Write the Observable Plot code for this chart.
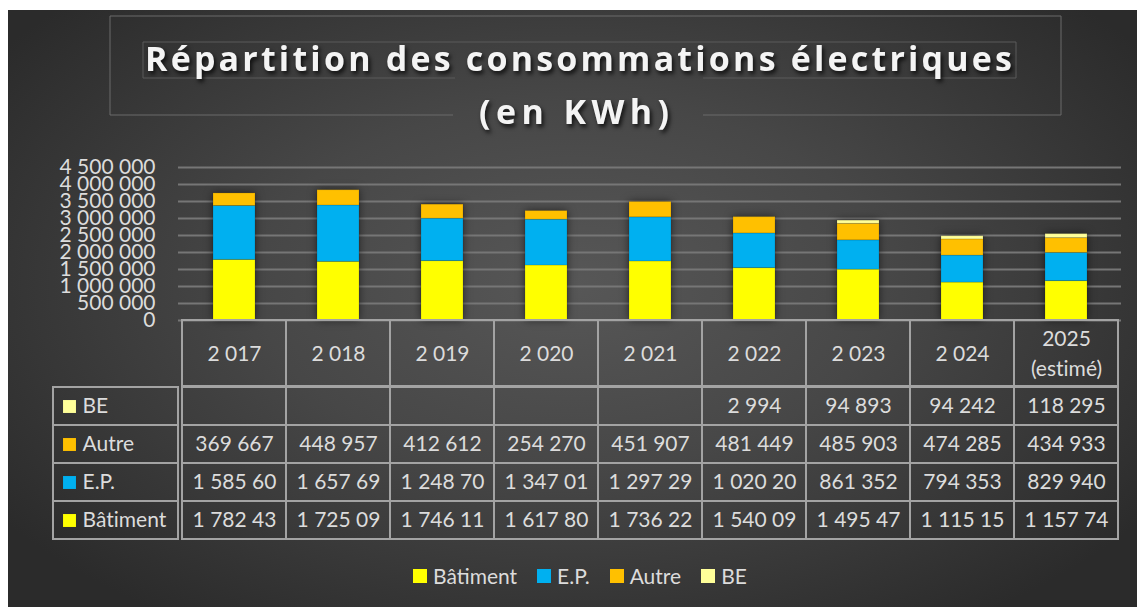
<!DOCTYPE html>
<html>
<head>
<meta charset="utf-8">
<script src="https://cdn.jsdelivr.net/npm/d3@7"></script>
<script src="https://cdn.jsdelivr.net/npm/@observablehq/plot@0.6"></script>
<style>
  html, body { margin: 0; padding: 0; background: #ffffff; width: 1137px; height: 607px; overflow: hidden; }
  #bg { position: absolute; left: 8px; top: 10px; width: 1129px; height: 597px;
        background: radial-gradient(ellipse 62% 68% at 50% 46%, #575757 0%, #474747 45%, #2b2b2b 100%); }
  #root { position: absolute; left: 0; top: 0; width: 1137px; height: 607px; }
  #root > * { position: absolute; }
  #root text { font-variant-ligatures: none; }
  :where(.lg-swatch) { margin-right: 20px !important; }
  :where(.lg-swatch > svg) { margin-right: 6px !important; }
</style>
</head>
<body>
<div id="bg"></div>
<div id="root">
  <svg id="title" width="1137" height="140" style="left:0;top:0">
    <path d="M453,115 H110 V16 H1061 V115 H703" fill="none" stroke="#6a6a6a" stroke-width="1"/>
    <path d="M455,78 H143 V42 H1016 V78 H703" fill="none" stroke="#5a5a5a" stroke-width="1"/>
    <g style="filter: drop-shadow(2px 3px 2px rgba(0,0,0,0.75))" fill="#f4f4f4"
       font-family="'Open Sans', Lato, sans-serif" font-weight="700" font-size="34">
      <text x="145" y="71" textLength="867" lengthAdjust="spacing">Répartition des consommations électriques</text>
      <text x="479" y="124" textLength="190" lengthAdjust="spacing">(en KWh)</text>
    </g>
  </svg>
</div>
<script>
// ---- data ----
const categories = ["2 017", "2 018", "2 019", "2 020", "2 021", "2 022", "2 023", "2 024", "2025\n(estimé)"];
const seriesNames = ["Bâtiment", "E.P.", "Autre", "BE"];
const seriesColors = ["#FFFF00", "#00B0F0", "#FFC000", "#FFFF99"];
const batiment = [1782430, 1725090, 1746110, 1617800, 1736220, 1540090, 1495470, 1115150, 1157740];
const ep       = [1585600, 1657690, 1248700, 1347010, 1297290, 1020200, 861352, 794353, 829940];
const autre    = [369667, 448957, 412612, 254270, 451907, 481449, 485903, 474285, 434933];
const be       = [null, null, null, null, null, 2994, 94893, 94242, 118295];
const yTicks   = [0, 500000, 1000000, 1500000, 2000000, 2500000, 3000000, 3500000, 4000000, 4500000];
const tableRows = ["BE", "Autre", "E.P.", "Bâtiment"];

// ---- build tables ----
const seriesValues = {"Bâtiment": batiment, "E.P.": ep, "Autre": autre, "BE": be};
const long = [];
for (const s of seriesNames) {
  seriesValues[s].forEach((v, i) => long.push({year: categories[i], series: s, value: v}));
}
const present = long.filter(d => d.value != null);
const grid = [];
for (const r of tableRows) for (const c of categories) grid.push({year: c, series: r});

const fr = d3.formatLocale({decimal: ",", thousands: " ", grouping: [3], currency: ["", ""]});
const fmt = fr.format(",d");
const cellText = v => { const s = fmt(v); return s.length > 8 ? s.slice(0, 8) : s; };

const FONT = "Lato, 'Open Sans', sans-serif";
const TXT = "#dcdcdc";
const LINE = "#a3a3a3";
const baseStyle = {background: "transparent", color: TXT, fontFamily: FONT, fontSize: "21px", overflow: "visible"};
const root = document.getElementById("root");
function place(el, left, top) { el.style.left = left + "px"; el.style.top = top + "px"; root.appendChild(el); return el; }

// ---- bar chart ----
const A = Plot.plot({
  width: 1137, height: 172,
  marginTop: 17, marginBottom: 2, marginLeft: 178, marginRight: 16,
  x: {domain: categories, paddingInner: 0.6, paddingOuter: 0.3, axis: null},
  y: {domain: [0, 4500000], axis: null},
  color: {domain: seriesNames, range: seriesColors},
  style: baseStyle,
  marks: [
    Plot.gridY({ticks: yTicks, stroke: "#767676", strokeOpacity: 1, strokeWidth: 2}),
    Plot.axisY({ticks: yTicks, tickFormat: fmt, tickSize: 0, tickPadding: 23, fontSize: 21, label: null}),
    Plot.barY(present, {x: "year", y: "value", fill: "series", order: seriesNames,
      stroke: "#000", strokeOpacity: 0.12, strokeWidth: 1})
  ]
});
place(A, 0, 150);
A.querySelectorAll('g[aria-label="bar"]').forEach(g => g.style.filter = "drop-shadow(0px 0px 4px rgba(0,0,0,0.55))");

// ---- header row ----
const H = Plot.plot({
  width: 1137, height: 68,
  marginTop: 1, marginBottom: 1, marginLeft: 178, marginRight: 16,
  x: {domain: categories, padding: 0, axis: null},
  style: baseStyle,
  marks: [
    Plot.cell(categories, {x: d => d, fill: "none", stroke: LINE, strokeWidth: 2}),
    Plot.text(categories, {x: d => d, text: d => d, frameAnchor: "middle", lineHeight: 1.4, fontSize: 21, fill: TXT, dy: -2})
  ]
});
place(H, 0, 319);

// ---- value cells ----
const V = Plot.plot({
  width: 1137, height: 156,
  marginTop: 1, marginBottom: 1, marginLeft: 178, marginRight: 16,
  x: {domain: categories, padding: 0, axis: null},
  y: {domain: tableRows, padding: 0, axis: null},
  style: baseStyle,
  marks: [
    Plot.cell(grid, {x: "year", y: "series", fill: "none", stroke: LINE, strokeWidth: 2}),
    Plot.text(present, {x: "year", y: "series", text: d => cellText(d.value), fontSize: 21, fill: TXT})
  ]
});
place(V, 0, 385);

// ---- row labels ----
const L = Plot.plot({
  width: 180, height: 156,
  marginTop: 1, marginBottom: 1, marginLeft: 53, marginRight: 2,
  y: {domain: tableRows, padding: 0, axis: null},
  color: {domain: seriesNames, range: seriesColors},
  style: baseStyle,
  marks: [
    Plot.cell(tableRows, {y: d => d, fill: "none", stroke: LINE, strokeWidth: 2}),
    Plot.dot(tableRows, {y: d => d, fill: d => d, symbol: "square", r: 7.3, frameAnchor: "left", dx: 16}),
    Plot.text(tableRows, {y: d => d, text: d => d, frameAnchor: "left", textAnchor: "start", dx: 29, fontSize: 21, fill: TXT})
  ]
});
place(L, 0, 385);

// ---- legend ----
const G = Plot.legend({
  color: {domain: seriesNames, range: seriesColors},
  legend: "swatches", swatchSize: 14, className: "lg",
  style: {fontFamily: FONT, fontSize: "21px", color: TXT, background: "transparent"}
});
place(G, 413, 559);
</script>
</body>
</html>
